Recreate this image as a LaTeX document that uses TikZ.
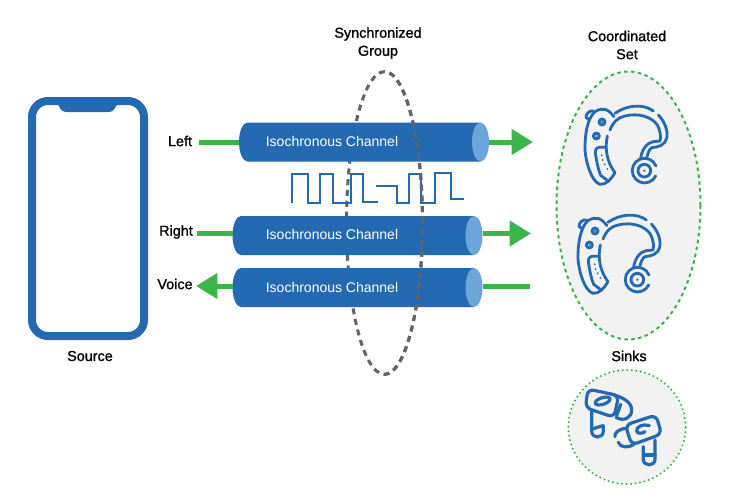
\documentclass[tikz,border=0pt]{standalone}
\usepackage{xcolor}
\usepackage{fontspec}
\setmainfont{Liberation Sans}
\newfontfamily\labelfont[FakeBold=1.1]{Liberation Sans}
\usetikzlibrary{arrows.meta,shapes.geometric,calc}
\definecolor{Tube}{HTML}{236AB2}
\definecolor{TubeEnd}{HTML}{6CA5DA}
\definecolor{Flow}{HTML}{3BB54A}
\definecolor{Ring}{HTML}{636466}
\definecolor{Pale}{HTML}{F2F2F2}

\tikzset{
  hearingaid/.pic={
    \begin{scope}[x=.25pt,y=-.25pt,icon]
      \draw (192,170) .. controls (175,148) and (160,140) .. (135,155) .. controls (112,175) and (104,225) .. (105,270) .. controls (108,310) and (125,365) .. (150,373) .. controls (170,375) and (185,355) .. (195,338);
      \draw (172,228) .. controls (164,265) and (170,305) .. (195,338);
      \draw (168,262) -- (148,262) .. controls (138,262) and (134,272) .. (137,285) .. controls (140,305) and (145,330) .. (152,346) -- (176,364);
      \draw (130,153) .. controls (118,150) and (108,162) .. (108,172) -- (118,180);
      \draw (156,186) circle[radius=9];
      \draw (139,228) circle[radius=9];
      \draw (195,160) .. controls (230,135) and (280,130) .. (310,153);
      \draw (180,210) .. controls (190,185) and (205,172) .. (225,168) .. controls (265,158) and (305,170) .. (322,195) .. controls (332,215) and (333,230) .. (330,243) -- (310,245) .. controls (290,248) and (275,270) .. (272,295);
      \draw (325,165) .. controls (345,185) and (355,215) .. (350,235) .. controls (345,255) and (325,262) .. (305,263) .. controls (298,268) and (293,280) .. (290,295);
      \draw (318,318) arc[start angle=-22,end angle=-335,radius=37];
      \draw (283,332) circle[radius=19];
      \fill[Tube] (283,332) circle[radius=3.5];
      \foreach \dotx/\doty in {156/186,139/228,155/286,158/300,164/313,172/327}
        \fill[Tube] (\dotx,\doty) circle[radius=3.2];
    \end{scope}
  }
}

\begin{document}
\begin{tikzpicture}[x=.75pt,y=-.75pt,
    icon/.style={draw=Tube,line width=2.1pt,line cap=round,line join=round},
    tube/.style={minimum width=187.5pt,minimum height=29.25pt,inner sep=0pt,outer sep=0pt},
    chan/.style={text=white,font=\fontsize{10.5}{12}\selectfont},
    lab/.style={align=center,text=black,font=\fontsize{10.8}{13.5}\selectfont\labelfont},
    wire/.style={draw=Flow,line width=3.75pt},
    a/.style={wire,-{Triangle[length=16pt,width=18.5pt]}},
    syncring/.style={ellipse,draw=Ring,line width=2.3pt,dash pattern=on 4.5pt off 3.6pt,minimum width=57pt,minimum height=227pt,inner sep=0pt},
    pulse/.style={draw=Tube,line width=1.5pt}]
  \useasboundingbox (0,0) rectangle (751,501);

  % phone
  \node[draw=Tube,line width=6pt,rounded corners=12pt,minimum width=84pt,minimum height=176.25pt,inner sep=0pt] (phone) at (88,218.5) {};
  \fill[Tube] (56,100) -- (119,100) -- (118,104) .. controls (115,105) and (116,112) .. (108,112) -- (67,112) .. controls (59,112) and (60,105) .. (57,104) -- cycle;
  \node[lab] (source) at (90,356) {Source};

  % group ring, back half
  \node[syncring] (group) at (384.5,223) {};
  \draw[pulse] (292,203) -- (292,174) -- (308,174) -- (308,203) -- (320,203) -- (320,174) -- (333,174) -- (333,203) -- (351,203) -- (351,174) -- (363,174) -- (363,202) -- (378,202);
  \draw[pulse] (376,186) -- (397,186) -- (397,203) -- (409,203) -- (409,174) -- (421,174) -- (421,203) -- (435,203) -- (435,173) -- (451,173) -- (451,199) -- (464,199);

  % channels
  \node[tube] (lefttube) at (364,142) {};
  \node[tube] (righttube) at (357.5,235.5) {};
  \node[tube] (voicetube) at (357.5,287.5) {};
  \foreach \tubename in {lefttube,righttube,voicetube} {
    \fill[Tube] ($(\tubename.north west)+(8.5,0)$) -- ($(\tubename.north east)-(8.5,0)$) -- ($(\tubename.south east)-(8.5,0)$) -- ($(\tubename.south west)+(8.5,0)$) arc[start angle=90,end angle=270,x radius=8.5,y radius=19.5] -- cycle;
    \fill[TubeEnd] ($(\tubename.east)-(8.5,0)$) ellipse[x radius=8.5,y radius=19.5];
  }
  \node[chan] (leftchan) at (332,141.5) {Isochronous Channel};
  \node[chan] (rightchan) at (332,234) {Isochronous Channel};
  \node[chan] (voicechan) at (332,287) {Isochronous Channel};

  \begin{scope}
    \clip (384.5,60) rectangle (440,385);
    \node[syncring] (groupfront) at (384.5,223) {};
  \end{scope}

  \coordinate (leftin) at (199,142);
  \coordinate (rightin) at (197,233.5);
  \coordinate (voiceout) at (196,286);
  \coordinate (leftout) at (533,142);
  \coordinate (rightout) at (531,233.5);
  \coordinate (voicein) at (530,286);
  \draw[wire] (leftin) -- (lefttube.west |- leftin);
  \draw[wire] (rightin) -- (righttube.west |- rightin);
  \draw[a] (voicetube.west |- voiceout) -- (voiceout);
  \draw[a] (lefttube.east |- leftout) -- (leftout);
  \draw[a] (righttube.east |- rightout) -- (rightout);
  \draw[wire] (voicein) -- (voicetube.east |- voicein);

  \node[lab] (leftlab) at (180,141) {Left};
  \node[lab] (rightlab) at (176,232) {Right};
  \node[lab] (voicelab) at (175,284) {Voice};
  \node[lab] (grouplab) at (378,43) {Synchronized\\Group};
  \node[lab] (setlab) at (627,45) {Coordinated\\Set};
  \node[lab] (sinklab) at (629,356) {Sinks};

  % coordinated set
  \node[ellipse,draw=Flow,fill=Pale,line width=1.5pt,dash pattern=on 2.6pt off 2.6pt,minimum width=108pt,minimum height=201pt,inner sep=0pt] (cset) at (628.5,205.5) {};
  \pic at (550,60) {hearingaid};
  \pic at (543,169) {hearingaid};

  % sinks
  \node[ellipse,draw=Flow,fill=Pale,line width=1.7pt,line cap=round,dash pattern=on 0pt off 3.4pt,minimum width=88pt,minimum height=85.5pt,inner sep=0pt] (sinks) at (627,427) {};
  \begin{scope}[shift={(560,365)},x=.25pt,y=-.25pt,icon,line width=2.4pt]
    \draw[rounded corners=4.5pt] (84,72) -- (176,92) -- (162,157) -- (76,128) -- cycle;
    \draw[rotate around={18:(128,108)}] (128,108) ellipse[x radius=23,y radius=10];
    \draw (155,88) .. controls (185,95) and (215,110) .. (215,135) .. controls (215,160) and (190,170) .. (168,157);
    \draw (182,118) -- (170,152);
    \draw (95,140) -- (95,198) .. controls (95,222) and (130,222) .. (130,198) -- (130,182);
    \draw (97,192) -- (128,182);
    \draw[rounded corners=4.5pt] (196,180) -- (288,150) -- (305,207) -- (215,240) -- cycle;
    \draw (268,182) .. controls (250,175) and (228,185) .. (230,198) .. controls (232,208) and (248,205) .. (255,200);
    \draw (198,190) .. controls (175,192) and (162,205) .. (165,215);
    \draw (175,232) .. controls (180,248) and (205,250) .. (222,238);
    \draw (250,245) -- (250,283) .. controls (250,305) and (285,305) .. (285,283) -- (285,225);
    \draw (250,270) -- (285,270);
  \end{scope}
\end{tikzpicture}
\end{document}
